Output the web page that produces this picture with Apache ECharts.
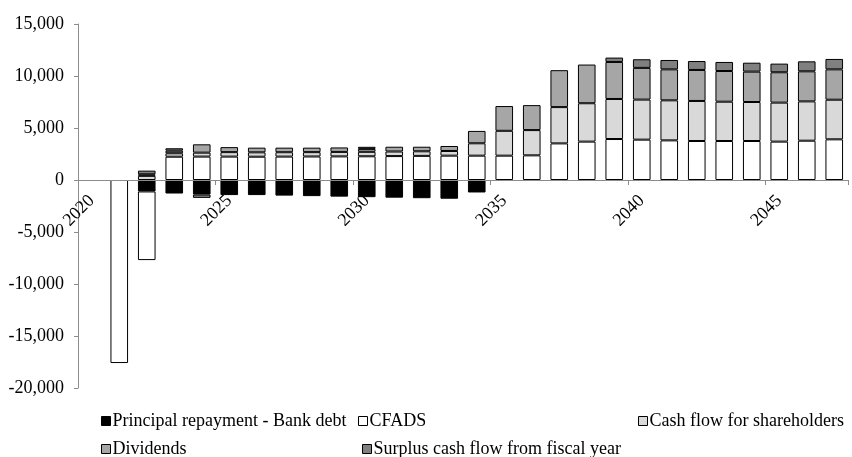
<!DOCTYPE html>
<html>
<head>
<meta charset="utf-8">
<script src="https://cdn.jsdelivr.net/npm/echarts@6/dist/echarts.min.js"></script>
<style>
  html, body { margin: 0; padding: 0; background: #fff; }
  #chart { width: 852px; height: 457px; }
</style>
</head>
<body>
<div id="chart"></div>
<script>
// Fiscal years shown on the category axis
const years = ['2020','2021','2022','2023','2024','2025','2026','2027','2028','2029',
               '2030','2031','2032','2033','2034','2035','2036','2037','2038','2039',
               '2040','2041','2042','2043','2044','2045','2046','2047'];

// Cash flow components per year
const principalRepayment = [0, 0, -1100, -1300, -1400, -1450, -1450, -1500, -1550, -1600,
                            -1650, -1700, -1750, -1800, -1200, 0, 0, 0, 0, 0,
                            0, 0, 0, 0, 0, 0, 0, 0];
const cfads = [0, -17600, -6600, 2240, 2250, 2250, 2240, 2250, 2260, 2270,
               2280, 2300, 2320, 2340, 2340, 2340, 2370, 3520, 3690, 3940,
               3880, 3810, 3750, 3750, 3750, 3690, 3780, 3910];
const cashFlowShareholders = [0, 0, 400, 330, 380, 430, 420, 420, 420, 430,
                              430, 440, 440, 450, 1190, 2390, 2430, 3490, 3690, 3850,
                              3850, 3850, 3850, 3780, 3750, 3750, 3780, 3810];
const dividends = [0, 0, 150, 250, 800, 480, 450, 440, 430, 430,
                   280, 460, 440, 480, 1190, 2380, 2400, 3550, 3720, 3560,
                   3050, 2980, 2980, 2950, 2920, 2920, 2890, 2920];
const surplusCashFlow = [0, 0, 350, 230, -320, 0, 0, 0, 0, 0,
                         200, 0, 0, 0, 0, 0, 0, 0, 0, 420,
                         830, 900, 860, 870, 860, 830, 960, 1000];

const yTicks = { min: -20000, max: 15000, step: 5000 };

const FONT = 'Liberation Serif';
const GRID = { left: 78, right: 4, top: 24, bottom: 69 };
const CHART_H = 457;

const seriesDefs = [
  { name: 'Principal repayment - Bank debt', data: principalRepayment, color: '#000000' },
  { name: 'CFADS', data: cfads, color: '#ffffff' },
  { name: 'Cash flow for shareholders', data: cashFlowShareholders, color: '#d9d9d9' },
  { name: 'Dividends', data: dividends, color: '#a6a6a6' },
  { name: 'Surplus cash flow from fiscal year', data: surplusCashFlow, color: '#808080' }
];

const series = seriesDefs.map(s => ({
  name: s.name,
  type: 'bar',
  stack: 'cash',
  barCategoryGap: '36%',
  data: s.data.map(v => (v === 0 ? null : v)),
  itemStyle: { color: s.color, borderColor: '#000', borderWidth: 1 },
  emphasis: { disabled: true }
}));

// Legend laid out in two rows, three slots wide
const legendSlots = [
  { left: 101, top: 412 },
  { left: 358, top: 412 },
  { left: 638, top: 412 },
  { left: 101, top: 440 },
  { left: 362, top: 440 }
];
const legends = seriesDefs.map((s, i) => ({
  data: [s.name],
  left: legendSlots[i].left,
  top: legendSlots[i].top,
  icon: 'rect',
  itemWidth: 9,
  itemHeight: 9,
  padding: 0,
  selectedMode: false,
  itemStyle: { borderColor: '#000', borderWidth: 1 },
  textStyle: { fontFamily: FONT, fontSize: 18, color: '#000', padding: [0, 0, 0, -3] }
}));

// Category axis sits on the zero line: shift it up from the grid bottom
const plotH = CHART_H - GRID.top - GRID.bottom;
const zeroOffset = -plotH * (0 - yTicks.min) / (yTicks.max - yTicks.min);

const chart = echarts.init(document.getElementById('chart'), null, { renderer: 'canvas' });
chart.setOption({
  animation: false,
  backgroundColor: '#fff',
  grid: Object.assign({ containLabel: false }, GRID),
  legend: legends,
  xAxis: {
    type: 'category',
    data: years,
    boundaryGap: true,
    offset: zeroOffset,
    z: 5,
    axisLine: { onZero: false, lineStyle: { color: '#8c8c8c', width: 1 } },
    axisTick: { show: true, interval: 4, length: 5, lineStyle: { color: '#8c8c8c' } },
    axisLabel: {
      interval: 4,
      rotate: 45,
      margin: 18,
      fontFamily: FONT,
      fontSize: 18,
      color: '#000'
    },
    splitLine: { show: false }
  },
  yAxis: {
    type: 'value',
    min: yTicks.min,
    max: yTicks.max,
    interval: yTicks.step,
    axisLine: { show: true, lineStyle: { color: '#8c8c8c', width: 1 } },
    axisTick: { show: true, length: 4, lineStyle: { color: '#8c8c8c' } },
    axisLabel: {
      margin: 14,
      fontFamily: FONT,
      fontSize: 18,
      color: '#000',
      formatter: v => v.toLocaleString('en-US')
    },
    splitLine: { show: false }
  },
  series: series
});
</script>
</body>
</html>
